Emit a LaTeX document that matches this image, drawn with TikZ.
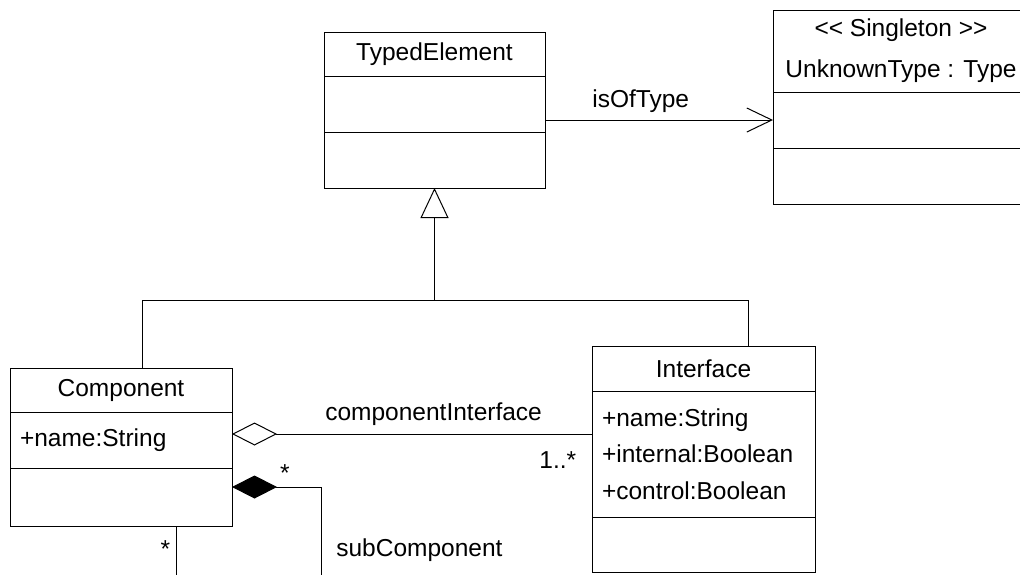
\documentclass[tikz,border=0pt]{standalone}
\usepackage{fontspec}
\newfontfamily\umlfont{Liberation Sans}
\usetikzlibrary{positioning,arrows.meta}

\tikzset{
  cls/.style 2 args={draw, line width=1pt, inner sep=0pt, outer sep=0pt,
    minimum width=#1, minimum height=#2,
    font=\umlfont\fontsize{24.5}{36.5}\selectfont},
  attrs/.style={align=left, text width=#1, inner xsep=10pt},
  conn/.style={line width=1pt},
  lbl/.style={font=\umlfont\fontsize{24.5}{29}\selectfont},
}

\begin{document}
\begin{tikzpicture}[x=1pt,y=-1pt]
\clip (0,0) rectangle (1020,574);

% TypedElement
\node[cls={221pt}{44pt}, anchor=north west] (te) at (324,32) {TypedElement};
\node[cls={221pt}{56pt}, below=0pt of te] (te-a) {};
\node[cls={221pt}{56pt}, below=0pt of te-a] (te-o) {};

% singleton type
\node[cls={256pt}{82pt}, align=center, font=\umlfont\fontsize{24.5}{41}\selectfont,
      anchor=north west] (st) at (773,10) {<< Singleton >>\\UnknownType : Type};
\node[cls={256pt}{56pt}, below=0pt of st] (st-a) {};
\node[cls={256pt}{56pt}, below=0pt of st-a] (st-o) {};

% Component
\node[cls={222pt}{44pt}, anchor=north west] (co) at (10,368) {Component};
\node[cls={222pt}{56pt}, attrs=202pt, below=0pt of co] (co-a) {+name:String};
\node[cls={222pt}{58pt}, below=0pt of co-a] (co-o) {};

% Interface
\node[cls={223pt}{45pt}, anchor=north west] (if) at (592,346) {Interface};
\node[cls={223pt}{126pt}, attrs=203pt, below=0pt of if] (if-a)
     {+name:String\\+internal:Boolean\\+control:Boolean};
\node[cls={223pt}{55pt}, below=0pt of if-a] (if-o) {};

% generalization
\coordinate (gen) at (te-o.south |- 0,300.4);
\draw[conn, -{Triangle[fill=white, length=30pt, width=28pt]}] (gen) -- (te-o.south);
\draw[conn] ([xshift=21pt]co.north) |- (gen) -| ([xshift=44.5pt]if.north);

% isOfType
\draw[conn, -{Straight Barb[length=25pt, width=24pt]}] (st-a.west -| te-a.east)
     -- node[lbl, above=4pt, pos=0.42] (isof) {isOfType} (st-a.west);

% componentInterface
\coordinate (ag-s) at ([yshift=6pt]co-a.east);
\draw[conn, {Diamond[fill=white, length=45pt, width=23pt]}-] (ag-s)
     -- node[lbl, above=5pt, pos=0.56] (ci) {componentInterface}
        node[lbl, pos=1, anchor=base east, xshift=-12pt, yshift=-34pt] (ci-m) {1..*}
     (ag-s -| if-a.west);

% subComponent
\coordinate (cp-s) at ([yshift=10pt]co-o.east);
\coordinate (sub-end) at (321.5,580);
\draw[conn, {Diamond[length=45pt, width=23pt]}-] (cp-s)
     -| node[lbl, pos=0, anchor=base, xshift=53pt, yshift=6pt] (sc-m) {*}
        node[lbl, pos=0.84, right=11pt] (sc) {subComponent} (sub-end);

% owner end
\coordinate (own-end) at (176,580);
\draw[conn] ([xshift=55pt]co-o.south)
     -- node[lbl, pos=0, anchor=base east, xshift=-2pt, yshift=-31pt] (own-m) {*} (own-end);
\end{tikzpicture}
\end{document}
